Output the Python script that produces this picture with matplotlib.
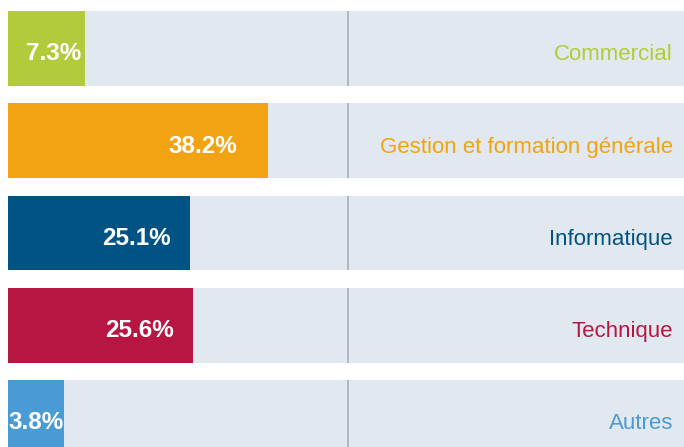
import matplotlib
matplotlib.use("Agg")
import matplotlib.pyplot as plt

categories = ["Commercial", "Gestion et formation générale", "Informatique", "Technique", "Autres"]
values = [7.3, 38.2, 25.1, 25.6, 3.8]
value_labels = ["7.3%", "38.2%", "25.1%", "25.6%", "3.8%"]

colors = ["#B2CB3A", "#F2A312", "#005383", "#B81642", "#4A9BD3"]
BG = "#E1E8EF"
LINE = "#A7B5C1"
STUB = 5.71          # visual stub so small bars still hold their label
XMAX = 108.5
MID_FRAC = 0.503     # divider position (axes fraction)
BAR_H = 0.813
LABEL_FRAC = 0.85

plt.rcParams['font.family'] = ['Liberation Sans', 'DejaVu Sans']

fig = plt.figure(figsize=(6.84, 4.47), dpi=100)
ax = fig.add_axes([8 / 684, 0, 1 - 8 / 684, 1])
ax.set_xlim(-STUB, XMAX)
ax.set_ylim(4.32, -0.526)
ax.axis("off")

ys = list(range(len(categories)))
ax.barh(ys, [XMAX + STUB] * len(ys), left=-STUB, height=BAR_H, color=BG, zorder=1)
trans = ax.get_yaxis_transform()
ax.vlines([MID_FRAC] * len(ys), [y - BAR_H / 2 for y in ys], [y + BAR_H / 2 for y in ys],
          color=LINE, lw=1.3, zorder=2, transform=trans)
ax.barh(ys, [v + STUB for v in values], left=-STUB, height=BAR_H, color=colors, zorder=3)

for y, v, lab, cat, c in zip(ys, values, value_labels, categories, colors):
    ax.annotate(lab, xy=(v * LABEL_FRAC, y), xytext=(2.2, -8.6), textcoords="offset points",
                ha="right", va="baseline", color="white", fontsize=17.5, fontweight="bold", zorder=4)
    ax.annotate(cat, xy=(1, y), xycoords=("axes fraction", "data"), xytext=(-7.9, -8.6),
                textcoords="offset points", ha="right", va="baseline", color=c, fontsize=16, zorder=4)

fig.savefig("out.png", dpi=100)
